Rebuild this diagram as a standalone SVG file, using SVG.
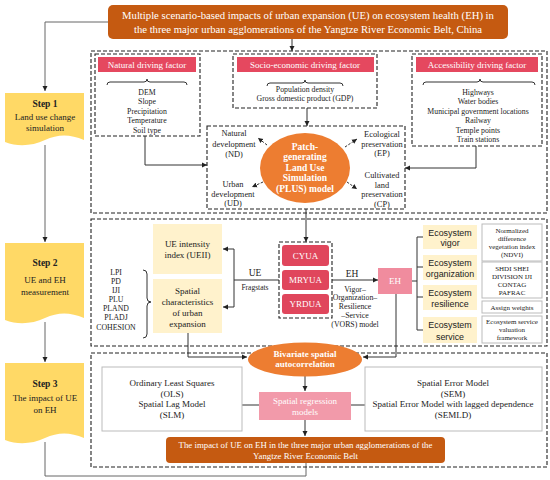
<svg xmlns="http://www.w3.org/2000/svg" width="550" height="480" viewBox="0 0 550 480" font-family="Liberation Serif, DejaVu Serif, serif">
<style>
text{font-family:'Liberation Serif','Times New Roman',serif;fill:#222;text-anchor:middle}
.w{fill:#fff}
.b{font-weight:bold}
.sans{font-family:'Liberation Sans',Arial,sans-serif}
.dash{fill:none;stroke:#222;stroke-width:1.1;stroke-dasharray:4 2}
.ln{fill:none;stroke:#333;stroke-width:1}
.gl{fill:none;stroke:#666;stroke-width:1}
.dl{fill:none;stroke:#333;stroke-width:1;stroke-dasharray:2.5 1.5}
.hdr{fill:#E5485F}
.city{fill:#E0465C}
.ly{fill:#FFF2CC}
.wb{fill:#fff;stroke:#bbb;stroke-width:1}
.step{fill:#FFD966}
.f9{font-size:9px}
.f95{font-size:9.5px}
.f88{font-size:8.9px}
.f85{font-size:8.4px}
.f8{font-size:7.8px}
.f75{font-size:7.5px}
.f7{font-size:7px}
</style>
<defs>
<marker id="a" markerWidth="6" markerHeight="6" refX="5" refY="3" orient="auto" markerUnits="userSpaceOnUse"><path d="M0,0.5 L5,3 L0,5.5 Z" fill="#222"/></marker>
</defs>

<g id="connectors">
<path class="gl" d="M108,22 H45 V91" marker-end="url(#a)"/>
<path class="gl" d="M45,145 V242" marker-end="url(#a)"/>
<path class="gl" d="M45,322 V362" marker-end="url(#a)"/>
<path class="gl" d="M45,442 V476 H306 V463"/>
<path class="ln" d="M292,39 V51" marker-end="url(#a)"/>
<path class="ln" d="M307,108 V126" marker-end="url(#a)"/>
<path class="ln" d="M145,136 V165 H207" marker-end="url(#a)"/>
<path class="ln" d="M476,146 V168 H405" marker-end="url(#a)"/>
<path class="dl" d="M267,145 L258,138" marker-end="url(#a)"/>
<path class="dl" d="M263,182 L252,187" marker-end="url(#a)"/>
<path class="dl" d="M345,147 L357,139" marker-end="url(#a)"/>
<path class="dl" d="M347,182 L357,189" marker-end="url(#a)"/>
<path class="ln" d="M306,209 V242" marker-end="url(#a)"/>
<path class="ln" d="M279,280 H234"/>
<path class="ln" d="M234,249 V307"/>
<path class="ln" d="M234,249 H223" marker-end="url(#a)"/>
<path class="ln" d="M234,307 H223" marker-end="url(#a)"/>
<path class="ln" d="M332,280 H378" marker-end="url(#a)"/>
<path class="ln" d="M412,281 H417 M417,237 V330 M417,237 H423 M417,267 H423 M417,297 H423 M417,330 H423"/>
<path class="ln" d="M188,333 V357 H247" marker-end="url(#a)"/>
<path class="ln" d="M396,294 V357 H363" marker-end="url(#a)"/>
<path class="ln" d="M305,376 V391" marker-end="url(#a)"/>
<path class="ln" d="M242,405 H259 M351,405 H365"/>
<path class="ln" d="M305,420 V436" marker-end="url(#a)"/>
</g>

<g id="title">
<rect x="108" y="5" width="400" height="34" rx="5" fill="#C55A11"/>
<text class="w" x="308" y="19" font-size="10.7">Multiple scenario-based impacts of urban expansion (UE) on ecosystem health (EH) in</text>
<text class="w" x="308" y="32.5" font-size="10.7">the three major urban agglomerations of the Yangtze River Economic Belt, China</text>
</g>

<g id="steps">
<g id="step1">
<path class="step" d="M5,93 H84 V140 C70,134 58,134 45,140 C32,146 18,147 5,142 Z"/>
<text class="b f95" x="45" y="107">Step 1</text>
<text class="f9" x="45" y="120">Land use change</text>
<text class="f9" x="45" y="131">simulation</text>
</g>
<g id="step2">
<path class="step" d="M5,243 H84 V318 C70,312 58,312 45,318 C32,324 18,325 5,320 Z"/>
<text class="b f95" x="45" y="266">Step 2</text>
<text class="f9" x="45" y="283">UE and EH</text>
<text class="f9" x="45" y="295">measurement</text>
</g>
<g id="step3">
<path class="step" d="M5,363 H84 V438 C70,432 58,432 45,438 C32,444 18,445 5,440 Z"/>
<text class="b f95" x="45" y="387">Step 3</text>
<text class="f9" x="45" y="401">The impact of UE</text>
<text class="f9" x="45" y="413">on EH</text>
</g>
</g>

<g id="section1">
<rect class="dash" x="91" y="51" width="456" height="162"/>
<g id="natural">
<rect class="dash" x="95" y="54" width="105" height="82"/>
<rect class="hdr" x="98" y="57" width="98" height="15"/>
<text class="w f9" x="147" y="67.5">Natural driving factor</text>
<path class="ln" d="M107,85 Q107,82 110,82 H144 Q147,82 147,79 Q147,82 150,82 H184 Q187,82 187,85"/>
<text class="f8" x="147" y="94.5">DEM</text>
<text class="f8" x="147" y="104">Slope</text>
<text class="f8" x="147" y="113.5">Precipitation</text>
<text class="f8" x="147" y="123">Temperature</text>
<text class="f8" x="147" y="132.5">Soil type</text>
</g>
<g id="socio">
<rect class="dash" x="233" y="54" width="144" height="54"/>
<rect class="hdr" x="237" y="57" width="137" height="15"/>
<text class="w f9" x="305" y="67.5">Socio-economic driving factor</text>
<path class="ln" d="M267,86 Q267,83 270,83 H302 Q305,83 305,80 Q305,83 308,83 H340 Q343,83 343,86"/>
<text class="f8" x="305" y="92">Population density</text>
<text class="f8" x="305" y="101">Gross domestic product (GDP)</text>
</g>
<g id="access">
<rect class="dash" x="412" y="54" width="130" height="92"/>
<rect class="hdr" x="416" y="57" width="122" height="15"/>
<text class="w f9" x="477" y="67.5">Accessibility driving factor</text>
<path class="ln" d="M423,85 Q423,82 426,82 H477 Q480,82 480,79 Q480,82 483,82 H532 Q535,82 535,85"/>
<text class="f8" x="478" y="94.5">Highways</text>
<text class="f8" x="478" y="104">Water bodies</text>
<text class="f8" x="478" y="113.5">Municipal government locations</text>
<text class="f8" x="478" y="123">Railway</text>
<text class="f8" x="478" y="132.5">Temple points</text>
<text class="f8" x="478" y="142">Train stations</text>
</g>
<g id="plus">
<rect class="dash" x="207" y="126" width="198" height="83"/>
<ellipse cx="305" cy="168" rx="45" ry="35" fill="#ED7D31"/>
<text class="w b f95" x="305" y="149.5">Patch-</text>
<text class="w b f95" x="305" y="160">generating</text>
<text class="w b f95" x="305" y="170.5">Land Use</text>
<text class="w b f95" x="305" y="181">Simulation</text>
<text class="w b f95" x="305" y="192">(PLUS) model</text>
</g>
<g id="nd"><text class="f85" x="234" y="136">Natural</text><text class="f85" x="234" y="146.5">development</text><text class="f85" x="234" y="157">(ND)</text></g>
<g id="ud"><text class="f85" x="233" y="187">Urban</text><text class="f85" x="233" y="196.5">development</text><text class="f85" x="233" y="206">(UD)</text></g>
<g id="ep"><text class="f85" x="382" y="137">Ecological</text><text class="f85" x="382" y="146.5">preservation</text><text class="f85" x="382" y="156">(EP)</text></g>
<g id="cp"><text class="f85" x="382" y="178">Cultivated</text><text class="f85" x="382" y="187.5">land</text><text class="f85" x="382" y="197">preservation</text><text class="f85" x="382" y="206.5">(CP)</text></g>
</g>

<g id="section2">
<rect class="dash" x="91" y="219" width="456" height="127"/>
<g id="cities">
<rect class="dash" x="279" y="242" width="53" height="76"/>
<rect class="city" x="282" y="245" width="47" height="21" rx="3"/>
<text class="w f9" x="305.5" y="258.5">CYUA</text>
<rect class="city" x="282" y="270" width="47" height="20" rx="3"/>
<text class="w f9" x="305.5" y="283">MRYUA</text>
<rect class="city" x="282" y="294" width="47" height="20" rx="3"/>
<text class="w f9" x="305.5" y="307">YRDUA</text>
</g>
<g id="ueii">
<rect class="ly" x="153" y="224" width="69" height="50"/>
<text class="f9" x="187.5" y="247">UE intensity</text>
<text class="f9" x="187.5" y="258">index (UEII)</text>
</g>
<g id="spatial">
<rect class="ly" x="153" y="279" width="69" height="54"/>
<text class="f9" x="187.5" y="294">Spatial</text>
<text class="f9" x="187.5" y="305">characteristics</text>
<text class="f9" x="187.5" y="316">of urban</text>
<text class="f9" x="187.5" y="327">expansion</text>
</g>
<g id="indices">
<text class="f8" x="116" y="275">LPI</text>
<text class="f8" x="116" y="284">PD</text>
<text class="f8" x="116" y="293">IJI</text>
<text class="f8" x="116" y="302">PLU</text>
<text class="f8" x="116" y="311">PLAND</text>
<text class="f8" x="116" y="320">PLADJ</text>
<text class="f8" x="116" y="330">COHESION</text>
<path class="ln" d="M143,270 Q147,270 147,274 V298 Q147,302 151,302 Q147,302 147,306 V334 Q147,338 143,338"/>
</g>
<text class="f95" x="255" y="276">UE</text>
<text class="f75" x="255" y="290">Fragstats</text>
<text class="f95" x="352" y="277">EH</text>
<g id="vors">
<text class="f8" x="355" y="291.5">Vigor–</text>
<text class="f8" x="355" y="300">Organization–</text>
<text class="f8" x="355" y="309">Resilience</text>
<text class="f8" x="355" y="317.5">–Service</text>
<text class="f8" x="355" y="326.5">(VORS) model</text>
</g>
<g id="eh">
<rect x="378" y="268" width="34" height="26" fill="#F08C9E"/>
<text class="w f9" x="395" y="284">EH</text>
</g>
<g id="vigor"><rect class="ly" x="423" y="225" width="54" height="24"/><text class="sans f88" x="450" y="235.5">Ecosystem</text><text class="sans f88" x="450" y="246">vigor</text></g>
<g id="organization"><rect class="ly" x="423" y="255" width="54" height="25"/><text class="sans f88" x="450" y="265.5">Ecosystem</text><text class="sans f88" x="450" y="276.5">organization</text></g>
<g id="resilience"><rect class="ly" x="423" y="285" width="54" height="25"/><text class="sans f88" x="450" y="295.5">Ecosystem</text><text class="sans f88" x="450" y="306.5">resilience</text></g>
<g id="service"><rect class="ly" x="423" y="317" width="54" height="26"/><text class="sans f88" x="450" y="328">Ecosystem</text><text class="sans f88" x="450" y="339.5">service</text></g>
<g id="ndvi"><rect class="wb" x="482" y="224" width="60" height="37"/>
<text class="f7" x="512" y="233">Normalized</text><text class="f7" x="512" y="241">difference</text><text class="f7" x="512" y="249">vegetation index</text><text class="f7" x="512" y="257">(NDVI)</text></g>
<g id="shdi"><rect class="wb" x="482" y="262" width="60" height="36"/>
<text class="f7" x="512" y="271">SHDI SHEI</text><text class="f7" x="512" y="279">DIVISION IJI</text><text class="f7" x="512" y="287">CONTAG</text><text class="f7" x="512" y="295">PAFRAC</text></g>
<g id="weights"><rect class="wb" x="482" y="301" width="60" height="12"/>
<text class="f7" x="512" y="310">Assign weights</text></g>
<g id="esv"><rect class="wb" x="482" y="316" width="60" height="27"/>
<text class="f7" x="512" y="324">Ecosystem service</text><text class="f7" x="512" y="332">valuation</text><text class="f7" x="512" y="340">framework</text></g>
</g>

<g id="section3">
<rect class="dash" x="91" y="353" width="456" height="114"/>
<g id="bivariate">
<ellipse cx="305" cy="359.5" rx="57" ry="17" fill="#ED7D31"/>
<text class="w b f9" x="305" y="356.5">Bivariate spatial</text>
<text class="w b f9" x="305" y="367">autocorrelation</text>
</g>
<g id="ols"><rect class="wb" x="102" y="367" width="140" height="64"/>
<text class="f9" x="172" y="386">Ordinary Least Squares</text><text class="f9" x="172" y="397">(OLS)</text><text class="f9" x="172" y="407">Spatial Lag Model</text><text class="f9" x="172" y="418">(SLM)</text></g>
<g id="regression"><rect x="259" y="392" width="92" height="28" fill="#F29AAA"/>
<text class="w f9" x="305" y="404">Spatial regression</text><text class="w f9" x="305" y="415">models</text></g>
<g id="sem"><rect class="wb" x="365" y="367" width="177" height="64"/>
<text class="f9" x="453" y="386">Spatial Error Model</text><text class="f9" x="453" y="397">(SEM)</text><text class="f9" x="453" y="407">Spatial Error Model with lagged dependence</text><text class="f9" x="453" y="418">(SEMLD)</text></g>
<g id="impact"><rect x="166" y="437" width="279" height="26" rx="4" fill="#C55A11"/>
<text class="w" font-size="8.8" x="305.5" y="448">The impact of UE on EH in the three major urban agglomerations of the</text>
<text class="w" font-size="8.8" x="305.5" y="458.5">Yangtze River Economic Belt</text></g>
</g>
</svg>
